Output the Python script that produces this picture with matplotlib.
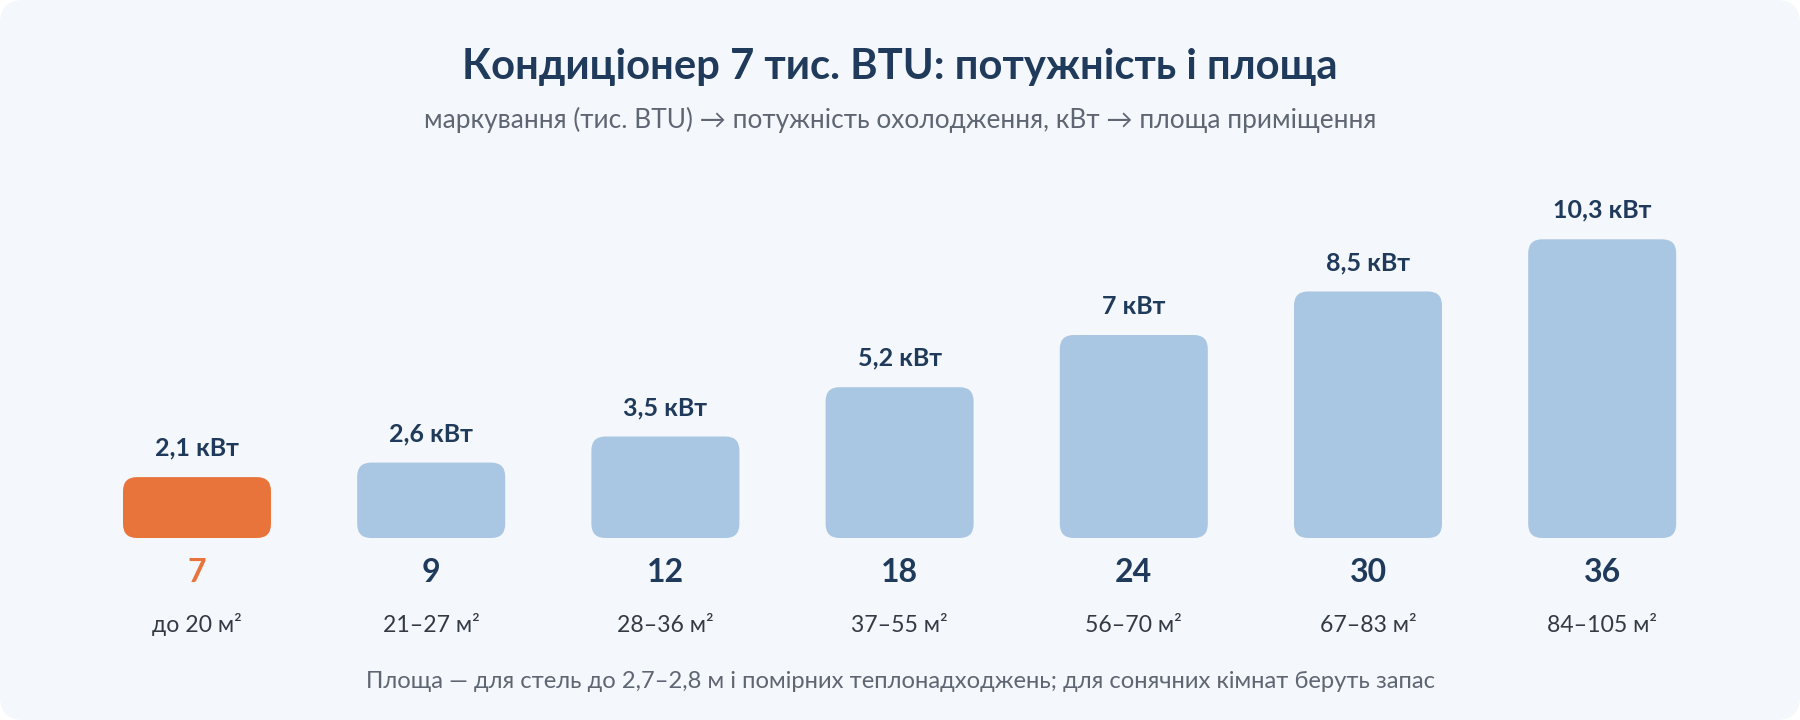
import matplotlib.pyplot as plt
from matplotlib.patches import FancyBboxPatch

plt.rcParams['font.family'] = ['Lato', 'DejaVu Sans']

# data
btu_labels = ["7", "9", "12", "18", "24", "30", "36"]
power_kw = [2.1, 2.6, 3.5, 5.2, 7.0, 8.5, 10.3]
power_labels = ["2,1 кВт", "2,6 кВт", "3,5 кВт", "5,2 кВт", "7 кВт", "8,5 кВт", "10,3 кВт"]
area_labels = ["до 20 м²", "21–27 м²", "28–36 м²", "37–55 м²", "56–70 м²", "67–83 м²", "84–105 м²"]
highlight = 0

NAVY = "#1f3a5a"
GRAY = "#5f6673"
BLUE = "#a9c6e3"
ORANGE = "#e8743b"
CARD = "#f4f7fb"

W, H = 1800, 720
fig = plt.figure(figsize=(W / 72, H / 72), dpi=72)
fig.patch.set_facecolor("white")

# card background
card = FancyBboxPatch((0, 0), 1, 1, boxstyle="round,pad=0,rounding_size=0.013",
                      transform=fig.transFigure, facecolor=CARD, edgecolor="none",
                      mutation_aspect=W / H, zorder=-10)
fig.patches.append(card)

# axes: baseline at 538 px from top
base_px = 182
px_per_unit_x = 234.2
px_per_kw = 29.0
ax = fig.add_axes([0, base_px / H, 1, (H - base_px) / H])
ax.set_facecolor("none")
ax.set_xlim(-197 / px_per_unit_x, (W - 197) / px_per_unit_x)
ax.set_ylim(0, (H - base_px) / px_per_kw)
ax.axis("off")

bar_w = 148 / px_per_unit_x
r = 14 / px_per_unit_x
aspect = px_per_unit_x / px_per_kw
for i, v in enumerate(power_kw):
    col = ORANGE if i == highlight else BLUE
    p = FancyBboxPatch((i - bar_w / 2, 0), bar_w, v,
                       boxstyle=f"round,pad=0,rounding_size={r}",
                       mutation_aspect=aspect, facecolor=col, edgecolor="none")
    ax.add_patch(p)
    ax.annotate(power_labels[i], (i, v), xytext=(0, 29), textcoords="offset points",
                ha="center", va="center", fontsize=25, fontweight="bold", color=NAVY)
    ax.annotate(btu_labels[i], (i, 0), xytext=(0, -35), textcoords="offset points",
                ha="center", va="center", fontsize=32, fontweight="bold",
                color=ORANGE if i == highlight else NAVY, annotation_clip=False)
    ax.annotate(area_labels[i], (i, 0), xytext=(0, -87), textcoords="offset points",
                ha="center", va="center", fontsize=23, color="#333a44",
                annotation_clip=False)

fig.text(0.5, 1 - 67 / H, "Кондиціонер 7 тис. BTU: потужність і площа",
         ha="center", va="center", fontsize=41.7, fontweight="bold", color=NAVY)
fig.text(0.5, 1 - 120 / H,
         "маркування (тис. BTU) → потужність охолодження, кВт → площа приміщення",
         ha="center", va="center", fontsize=26.3, color=GRAY)
fig.text(0.5, 1 - 682 / H,
         "Площа — для стель до 2,7–2,8 м і помірних теплонадходжень; для сонячних кімнат беруть запас",
         ha="center", va="center", fontsize=23.8, color=GRAY)

fig.savefig("out.png", dpi=72, facecolor=fig.get_facecolor())
